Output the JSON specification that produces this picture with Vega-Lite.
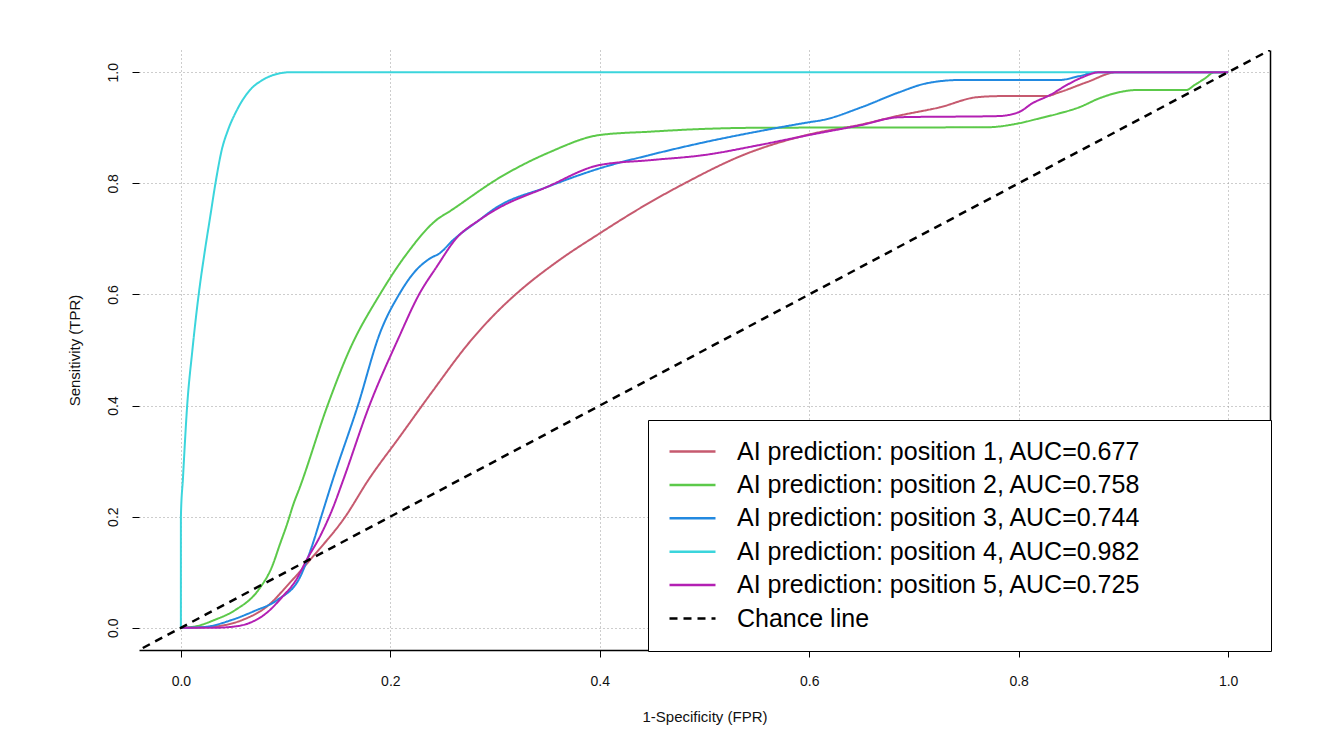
{
  "$schema": "https://vega.github.io/schema/vega-lite/v6.json",
  "width": 1131,
  "height": 600,
  "autosize": {"type": "none"},
  "padding": {"left": 139, "top": 50, "right": 60, "bottom": 81},
  "background": "white",
  "config": {"view": {"stroke": null}, "font": "Liberation Sans"},
  "datasets": {
    "curves": [
      {"series": "AI prediction: position 1, AUC=0.677", "fpr": 0, "tpr": 0},
      {"series": "AI prediction: position 1, AUC=0.677", "fpr": 0.03, "tpr": 0.002},
      {"series": "AI prediction: position 1, AUC=0.677", "fpr": 0.06, "tpr": 0.015},
      {"series": "AI prediction: position 1, AUC=0.677", "fpr": 0.082, "tpr": 0.038},
      {"series": "AI prediction: position 1, AUC=0.677", "fpr": 0.104, "tpr": 0.081},
      {"series": "AI prediction: position 1, AUC=0.677", "fpr": 0.126, "tpr": 0.128},
      {"series": "AI prediction: position 1, AUC=0.677", "fpr": 0.157, "tpr": 0.2},
      {"series": "AI prediction: position 1, AUC=0.677", "fpr": 0.179, "tpr": 0.266},
      {"series": "AI prediction: position 1, AUC=0.677", "fpr": 0.209, "tpr": 0.344},
      {"series": "AI prediction: position 1, AUC=0.677", "fpr": 0.24, "tpr": 0.425},
      {"series": "AI prediction: position 1, AUC=0.677", "fpr": 0.276, "tpr": 0.515},
      {"series": "AI prediction: position 1, AUC=0.677", "fpr": 0.3, "tpr": 0.565},
      {"series": "AI prediction: position 1, AUC=0.677", "fpr": 0.322, "tpr": 0.604},
      {"series": "AI prediction: position 1, AUC=0.677", "fpr": 0.36, "tpr": 0.66},
      {"series": "AI prediction: position 1, AUC=0.677", "fpr": 0.4, "tpr": 0.71},
      {"series": "AI prediction: position 1, AUC=0.677", "fpr": 0.44, "tpr": 0.757},
      {"series": "AI prediction: position 1, AUC=0.677", "fpr": 0.481, "tpr": 0.8},
      {"series": "AI prediction: position 1, AUC=0.677", "fpr": 0.537, "tpr": 0.851},
      {"series": "AI prediction: position 1, AUC=0.677", "fpr": 0.6, "tpr": 0.888},
      {"series": "AI prediction: position 1, AUC=0.677", "fpr": 0.65, "tpr": 0.906},
      {"series": "AI prediction: position 1, AUC=0.677", "fpr": 0.686, "tpr": 0.922},
      {"series": "AI prediction: position 1, AUC=0.677", "fpr": 0.725, "tpr": 0.937},
      {"series": "AI prediction: position 1, AUC=0.677", "fpr": 0.76, "tpr": 0.955},
      {"series": "AI prediction: position 1, AUC=0.677", "fpr": 0.782, "tpr": 0.957},
      {"series": "AI prediction: position 1, AUC=0.677", "fpr": 0.826, "tpr": 0.957},
      {"series": "AI prediction: position 1, AUC=0.677", "fpr": 0.839, "tpr": 0.964},
      {"series": "AI prediction: position 1, AUC=0.677", "fpr": 0.865, "tpr": 0.982},
      {"series": "AI prediction: position 1, AUC=0.677", "fpr": 0.894, "tpr": 1.0},
      {"series": "AI prediction: position 1, AUC=0.677", "fpr": 1.0, "tpr": 1.0},

      {"series": "AI prediction: position 2, AUC=0.758", "fpr": 0, "tpr": 0},
      {"series": "AI prediction: position 2, AUC=0.758", "fpr": 0.015, "tpr": 0.003},
      {"series": "AI prediction: position 2, AUC=0.758", "fpr": 0.032, "tpr": 0.014},
      {"series": "AI prediction: position 2, AUC=0.758", "fpr": 0.052, "tpr": 0.032},
      {"series": "AI prediction: position 2, AUC=0.758", "fpr": 0.074, "tpr": 0.068},
      {"series": "AI prediction: position 2, AUC=0.758", "fpr": 0.087, "tpr": 0.11},
      {"series": "AI prediction: position 2, AUC=0.758", "fpr": 0.0945, "tpr": 0.15},
      {"series": "AI prediction: position 2, AUC=0.758", "fpr": 0.102, "tpr": 0.19},
      {"series": "AI prediction: position 2, AUC=0.758", "fpr": 0.107, "tpr": 0.22},
      {"series": "AI prediction: position 2, AUC=0.758", "fpr": 0.114, "tpr": 0.255},
      {"series": "AI prediction: position 2, AUC=0.758", "fpr": 0.14, "tpr": 0.4},
      {"series": "AI prediction: position 2, AUC=0.758", "fpr": 0.161, "tpr": 0.5},
      {"series": "AI prediction: position 2, AUC=0.758", "fpr": 0.19, "tpr": 0.6},
      {"series": "AI prediction: position 2, AUC=0.758", "fpr": 0.216, "tpr": 0.674},
      {"series": "AI prediction: position 2, AUC=0.758", "fpr": 0.244, "tpr": 0.734},
      {"series": "AI prediction: position 2, AUC=0.758", "fpr": 0.257, "tpr": 0.75},
      {"series": "AI prediction: position 2, AUC=0.758", "fpr": 0.305, "tpr": 0.811},
      {"series": "AI prediction: position 2, AUC=0.758", "fpr": 0.352, "tpr": 0.856},
      {"series": "AI prediction: position 2, AUC=0.758", "fpr": 0.4, "tpr": 0.887},
      {"series": "AI prediction: position 2, AUC=0.758", "fpr": 0.448, "tpr": 0.893},
      {"series": "AI prediction: position 2, AUC=0.758", "fpr": 0.5, "tpr": 0.898},
      {"series": "AI prediction: position 2, AUC=0.758", "fpr": 0.55, "tpr": 0.9},
      {"series": "AI prediction: position 2, AUC=0.758", "fpr": 0.77, "tpr": 0.901},
      {"series": "AI prediction: position 2, AUC=0.758", "fpr": 0.8, "tpr": 0.908},
      {"series": "AI prediction: position 2, AUC=0.758", "fpr": 0.82, "tpr": 0.917},
      {"series": "AI prediction: position 2, AUC=0.758", "fpr": 0.839, "tpr": 0.926},
      {"series": "AI prediction: position 2, AUC=0.758", "fpr": 0.858, "tpr": 0.937},
      {"series": "AI prediction: position 2, AUC=0.758", "fpr": 0.877, "tpr": 0.953},
      {"series": "AI prediction: position 2, AUC=0.758", "fpr": 0.896, "tpr": 0.964},
      {"series": "AI prediction: position 2, AUC=0.758", "fpr": 0.913, "tpr": 0.968},
      {"series": "AI prediction: position 2, AUC=0.758", "fpr": 0.96, "tpr": 0.968},
      {"series": "AI prediction: position 2, AUC=0.758", "fpr": 0.968, "tpr": 0.977},
      {"series": "AI prediction: position 2, AUC=0.758", "fpr": 0.978, "tpr": 0.989},
      {"series": "AI prediction: position 2, AUC=0.758", "fpr": 0.987, "tpr": 1.0},
      {"series": "AI prediction: position 2, AUC=0.758", "fpr": 1.0, "tpr": 1.0},

      {"series": "AI prediction: position 3, AUC=0.744", "fpr": 0, "tpr": 0},
      {"series": "AI prediction: position 3, AUC=0.744", "fpr": 0.02, "tpr": 0.001},
      {"series": "AI prediction: position 3, AUC=0.744", "fpr": 0.05, "tpr": 0.015},
      {"series": "AI prediction: position 3, AUC=0.744", "fpr": 0.07, "tpr": 0.03},
      {"series": "AI prediction: position 3, AUC=0.744", "fpr": 0.092, "tpr": 0.05},
      {"series": "AI prediction: position 3, AUC=0.744", "fpr": 0.114, "tpr": 0.092},
      {"series": "AI prediction: position 3, AUC=0.744", "fpr": 0.125, "tpr": 0.146},
      {"series": "AI prediction: position 3, AUC=0.744", "fpr": 0.134, "tpr": 0.2},
      {"series": "AI prediction: position 3, AUC=0.744", "fpr": 0.145, "tpr": 0.266},
      {"series": "AI prediction: position 3, AUC=0.744", "fpr": 0.169, "tpr": 0.4},
      {"series": "AI prediction: position 3, AUC=0.744", "fpr": 0.19, "tpr": 0.53},
      {"series": "AI prediction: position 3, AUC=0.744", "fpr": 0.209, "tpr": 0.602},
      {"series": "AI prediction: position 3, AUC=0.744", "fpr": 0.222, "tpr": 0.638},
      {"series": "AI prediction: position 3, AUC=0.744", "fpr": 0.238, "tpr": 0.665},
      {"series": "AI prediction: position 3, AUC=0.744", "fpr": 0.247, "tpr": 0.674},
      {"series": "AI prediction: position 3, AUC=0.744", "fpr": 0.26, "tpr": 0.698},
      {"series": "AI prediction: position 3, AUC=0.744", "fpr": 0.285, "tpr": 0.734},
      {"series": "AI prediction: position 3, AUC=0.744", "fpr": 0.3, "tpr": 0.755},
      {"series": "AI prediction: position 3, AUC=0.744", "fpr": 0.349, "tpr": 0.793},
      {"series": "AI prediction: position 3, AUC=0.744", "fpr": 0.4, "tpr": 0.827},
      {"series": "AI prediction: position 3, AUC=0.744", "fpr": 0.45, "tpr": 0.852},
      {"series": "AI prediction: position 3, AUC=0.744", "fpr": 0.5, "tpr": 0.874},
      {"series": "AI prediction: position 3, AUC=0.744", "fpr": 0.55, "tpr": 0.893},
      {"series": "AI prediction: position 3, AUC=0.744", "fpr": 0.6, "tpr": 0.91},
      {"series": "AI prediction: position 3, AUC=0.744", "fpr": 0.613, "tpr": 0.914},
      {"series": "AI prediction: position 3, AUC=0.744", "fpr": 0.65, "tpr": 0.937},
      {"series": "AI prediction: position 3, AUC=0.744", "fpr": 0.686, "tpr": 0.964},
      {"series": "AI prediction: position 3, AUC=0.744", "fpr": 0.712, "tpr": 0.98},
      {"series": "AI prediction: position 3, AUC=0.744", "fpr": 0.744, "tpr": 0.986},
      {"series": "AI prediction: position 3, AUC=0.744", "fpr": 0.839, "tpr": 0.986},
      {"series": "AI prediction: position 3, AUC=0.744", "fpr": 0.858, "tpr": 0.993},
      {"series": "AI prediction: position 3, AUC=0.744", "fpr": 0.875, "tpr": 1.0},
      {"series": "AI prediction: position 3, AUC=0.744", "fpr": 1.0, "tpr": 1.0},

      {"series": "AI prediction: position 4, AUC=0.982", "fpr": 0, "tpr": 0},
      {"series": "AI prediction: position 4, AUC=0.982", "fpr": 0, "tpr": 0.2},
      {"series": "AI prediction: position 4, AUC=0.982", "fpr": 0.002, "tpr": 0.27},
      {"series": "AI prediction: position 4, AUC=0.982", "fpr": 0.006, "tpr": 0.4},
      {"series": "AI prediction: position 4, AUC=0.982", "fpr": 0.011, "tpr": 0.5},
      {"series": "AI prediction: position 4, AUC=0.982", "fpr": 0.017, "tpr": 0.6},
      {"series": "AI prediction: position 4, AUC=0.982", "fpr": 0.023, "tpr": 0.68},
      {"series": "AI prediction: position 4, AUC=0.982", "fpr": 0.028, "tpr": 0.74},
      {"series": "AI prediction: position 4, AUC=0.982", "fpr": 0.033, "tpr": 0.8},
      {"series": "AI prediction: position 4, AUC=0.982", "fpr": 0.039, "tpr": 0.86},
      {"series": "AI prediction: position 4, AUC=0.982", "fpr": 0.045, "tpr": 0.896},
      {"series": "AI prediction: position 4, AUC=0.982", "fpr": 0.053, "tpr": 0.93},
      {"series": "AI prediction: position 4, AUC=0.982", "fpr": 0.066, "tpr": 0.968},
      {"series": "AI prediction: position 4, AUC=0.982", "fpr": 0.078, "tpr": 0.986},
      {"series": "AI prediction: position 4, AUC=0.982", "fpr": 0.09, "tpr": 0.996},
      {"series": "AI prediction: position 4, AUC=0.982", "fpr": 0.105, "tpr": 1.0},
      {"series": "AI prediction: position 4, AUC=0.982", "fpr": 1.0, "tpr": 1.0},

      {"series": "AI prediction: position 5, AUC=0.725", "fpr": 0, "tpr": 0},
      {"series": "AI prediction: position 5, AUC=0.725", "fpr": 0.03, "tpr": 0},
      {"series": "AI prediction: position 5, AUC=0.725", "fpr": 0.05, "tpr": 0.002},
      {"series": "AI prediction: position 5, AUC=0.725", "fpr": 0.066, "tpr": 0.009},
      {"series": "AI prediction: position 5, AUC=0.725", "fpr": 0.082, "tpr": 0.027},
      {"series": "AI prediction: position 5, AUC=0.725", "fpr": 0.097, "tpr": 0.056},
      {"series": "AI prediction: position 5, AUC=0.725", "fpr": 0.11, "tpr": 0.086},
      {"series": "AI prediction: position 5, AUC=0.725", "fpr": 0.12, "tpr": 0.122},
      {"series": "AI prediction: position 5, AUC=0.725", "fpr": 0.133, "tpr": 0.165},
      {"series": "AI prediction: position 5, AUC=0.725", "fpr": 0.145, "tpr": 0.215},
      {"series": "AI prediction: position 5, AUC=0.725", "fpr": 0.155, "tpr": 0.266},
      {"series": "AI prediction: position 5, AUC=0.725", "fpr": 0.18, "tpr": 0.4},
      {"series": "AI prediction: position 5, AUC=0.725", "fpr": 0.207, "tpr": 0.518},
      {"series": "AI prediction: position 5, AUC=0.725", "fpr": 0.228, "tpr": 0.602},
      {"series": "AI prediction: position 5, AUC=0.725", "fpr": 0.244, "tpr": 0.649},
      {"series": "AI prediction: position 5, AUC=0.725", "fpr": 0.263, "tpr": 0.701},
      {"series": "AI prediction: position 5, AUC=0.725", "fpr": 0.285, "tpr": 0.734},
      {"series": "AI prediction: position 5, AUC=0.725", "fpr": 0.3, "tpr": 0.752},
      {"series": "AI prediction: position 5, AUC=0.725", "fpr": 0.349, "tpr": 0.793},
      {"series": "AI prediction: position 5, AUC=0.725", "fpr": 0.4, "tpr": 0.833},
      {"series": "AI prediction: position 5, AUC=0.725", "fpr": 0.45, "tpr": 0.842},
      {"series": "AI prediction: position 5, AUC=0.725", "fpr": 0.5, "tpr": 0.851},
      {"series": "AI prediction: position 5, AUC=0.725", "fpr": 0.55, "tpr": 0.868},
      {"series": "AI prediction: position 5, AUC=0.725", "fpr": 0.6, "tpr": 0.887},
      {"series": "AI prediction: position 5, AUC=0.725", "fpr": 0.65, "tpr": 0.905},
      {"series": "AI prediction: position 5, AUC=0.725", "fpr": 0.686, "tpr": 0.919},
      {"series": "AI prediction: position 5, AUC=0.725", "fpr": 0.78, "tpr": 0.921},
      {"series": "AI prediction: position 5, AUC=0.725", "fpr": 0.8, "tpr": 0.928},
      {"series": "AI prediction: position 5, AUC=0.725", "fpr": 0.813, "tpr": 0.944},
      {"series": "AI prediction: position 5, AUC=0.725", "fpr": 0.83, "tpr": 0.959},
      {"series": "AI prediction: position 5, AUC=0.725", "fpr": 0.846, "tpr": 0.977},
      {"series": "AI prediction: position 5, AUC=0.725", "fpr": 0.861, "tpr": 0.991},
      {"series": "AI prediction: position 5, AUC=0.725", "fpr": 0.877, "tpr": 1.0},
      {"series": "AI prediction: position 5, AUC=0.725", "fpr": 1.0, "tpr": 1.0}
    ],
    "chance": [
      {"series": "Chance line", "fpr": -0.06, "tpr": -0.06},
      {"series": "Chance line", "fpr": 1.06, "tpr": 1.06}
    ]
  },
  "encoding": {
    "x": {
      "field": "fpr",
      "type": "quantitative",
      "scale": {"domain": [-0.04, 1.04], "nice": false, "zero": false},
      "axis": {
        "values": [0, 0.2, 0.4, 0.6, 0.8, 1.0],
        "format": ".1f",
        "labelFlush": false,
        "labelOverlap": false,
        "domain": true,
        "domainColor": "black",
        "domainWidth": 1.5,
        "ticks": true,
        "tickSize": 7,
        "tickColor": "black",
        "tickWidth": 1,
        "labelFont": "Liberation Sans",
        "labelFontSize": 14,
        "labelColor": "#111111",
        "labelPadding": 17,
        "title": "1-Specificity (FPR)",
        "titleFont": "Liberation Sans",
        "titleFontSize": 15,
        "titleFontWeight": "normal",
        "titleColor": "#111111",
        "titlePadding": 21,
        "grid": true,
        "gridColor": "#9a9a9a",
        "gridDash": [1, 3],
        "gridWidth": 1
      }
    },
    "color": {
      "field": "series",
      "type": "nominal",
      "scale": {
        "domain": [
          "AI prediction: position 1, AUC=0.677",
          "AI prediction: position 2, AUC=0.758",
          "AI prediction: position 3, AUC=0.744",
          "AI prediction: position 4, AUC=0.982",
          "AI prediction: position 5, AUC=0.725",
          "Chance line"
        ],
        "range": ["#c65a6f", "#5cc94a", "#2289e0", "#3bd5dc", "#b320b3", "#000000"]
      },
      "legend": {
        "title": null,
        "orient": "none",
        "legendX": 509,
        "legendY": 370,
        "direction": "vertical",
        "fillColor": "white",
        "strokeColor": "black",
        "padding": 19,
        "labelFont": "Liberation Sans",
        "labelFontSize": 25,
        "labelColor": "black",
        "labelLimit": 2000,
        "symbolType": "M-2.3,0H2.3",
        "symbolSize": 400,
        "symbolStrokeWidth": 2.5,
        "rowPadding": 7.4,
        "labelOffset": 32,
        "symbolOffset": 13,
        "labelExpr": "datum.label + '                \u200b'"
      }
    },
    "strokeDash": {
      "field": "series",
      "type": "nominal",
      "scale": {
        "domain": [
          "AI prediction: position 1, AUC=0.677",
          "AI prediction: position 2, AUC=0.758",
          "AI prediction: position 3, AUC=0.744",
          "AI prediction: position 4, AUC=0.982",
          "AI prediction: position 5, AUC=0.725",
          "Chance line"
        ],
        "range": [[1, 0], [1, 0], [1, 0], [1, 0], [1, 0], [8, 6]]
      },
      "legend": {
        "title": null,
        "orient": "none",
        "legendX": 509,
        "legendY": 370,
        "direction": "vertical",
        "fillColor": "white",
        "strokeColor": "black",
        "padding": 19,
        "labelFont": "Liberation Sans",
        "labelFontSize": 25,
        "labelColor": "black",
        "labelLimit": 2000,
        "symbolType": "M-2.3,0H2.3",
        "symbolSize": 400,
        "symbolStrokeWidth": 2.5,
        "rowPadding": 7.4,
        "labelOffset": 32,
        "symbolOffset": 13,
        "labelExpr": "datum.label + '                \u200b'"
      }
    }
  },
  "layer": [
    {
      "data": {"name": "curves"},
      "mark": {"type": "line", "strokeWidth": 2, "clip": true, "interpolate": "monotone"},
      "encoding": {
        "y": {
          "field": "tpr",
          "type": "quantitative",
          "scale": {"domain": [-0.04, 1.04], "nice": false, "zero": false},
          "axis": {
            "orient": "left",
            "values": [0, 0.2, 0.4, 0.6, 0.8, 1.0],
            "format": ".1f",
            "labelFlush": false,
            "labelOverlap": false,
            "domain": false,
            "ticks": true,
            "tickSize": 7,
            "tickColor": "black",
            "tickWidth": 1,
            "labelFont": "Liberation Sans",
            "labelFontSize": 14,
            "labelColor": "#111111",
            "labelAngle": -90,
            "labelAlign": "center",
            "labelBaseline": "bottom",
            "labelPadding": 11.5,
            "title": "Sensitivity (TPR)",
            "titleFont": "Liberation Sans",
            "titleFontSize": 15,
            "titleFontWeight": "normal",
            "titleColor": "#111111",
            "titlePadding": 24,
            "grid": true,
            "gridColor": "#9a9a9a",
            "gridDash": [1, 3],
            "gridWidth": 1
          }
        },
        "order": {"value": null}
      }
    },
    {
      "data": {"name": "chance"},
      "mark": {"type": "line", "strokeWidth": 2.5, "clip": true},
      "encoding": {
        "y": {
          "field": "tpr",
          "type": "quantitative",
          "scale": {"domain": [-0.04, 1.04], "nice": false, "zero": false},
          "axis": {
            "orient": "right",
            "domain": true,
            "domainColor": "black",
            "domainWidth": 1.5,
            "ticks": false,
            "labels": false,
            "grid": false,
            "title": null
          }
        }
      }
    }
  ],
  "resolve": {"axis": {"y": "independent"}}
}
